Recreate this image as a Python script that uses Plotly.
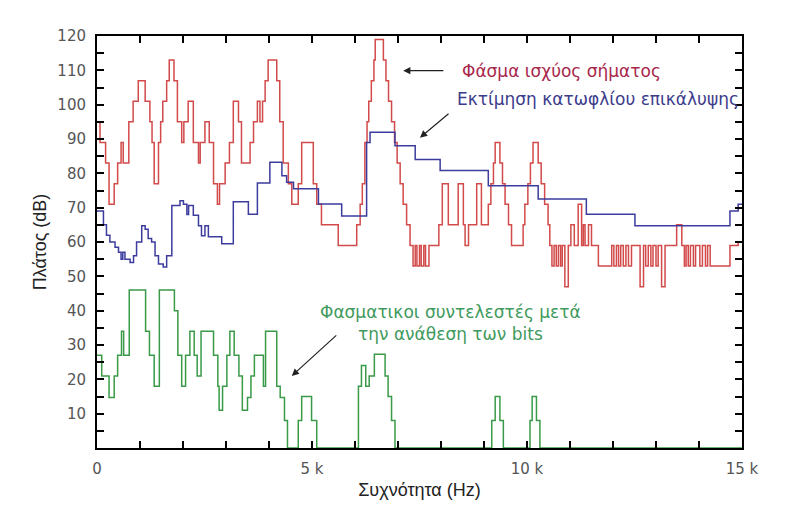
import plotly.graph_objects as go

# ---- data (frequency in kHz where each step starts, level in dB) ----
red_f = [0.00, 0.07, 0.20, 0.28, 0.40, 0.48, 0.56, 0.61, 0.74, 0.84, 0.96, 1.12, 1.23, 1.28, 1.33,
         1.43, 1.48, 1.53, 1.62, 1.68, 1.79, 1.87, 1.97, 2.02, 2.12, 2.24, 2.36, 2.40, 2.51, 2.61,
         2.71, 2.80, 2.85, 2.98, 3.08, 3.17, 3.29, 3.36, 3.56, 3.64, 3.73, 3.79, 3.85, 3.91, 3.98,
         4.18, 4.25, 4.33, 4.45, 4.53, 4.68, 4.76, 5.03, 5.11, 5.22, 5.61, 6.04, 6.12,
         6.17, 6.23, 6.28, 6.32, 6.38, 6.44, 6.47, 6.66, 6.72, 6.78, 6.85, 6.92, 6.98, 7.05, 7.12,
         7.20, 7.28, 7.35, 7.40, 7.44, 7.50, 7.54, 7.60, 7.64, 7.72, 7.95, 8.03, 8.17, 8.40, 8.52,
         8.56, 8.64, 8.83, 8.94, 9.10, 9.16, 9.22, 9.26, 9.37, 9.43, 9.49, 9.57, 9.64, 9.91, 9.95,
         10.02, 10.08, 10.14, 10.26, 10.33, 10.41, 10.49, 10.53, 10.58, 10.63, 10.68, 10.73, 10.78,
         10.82, 10.88, 10.96, 11.02, 11.10, 11.19, 11.27, 11.31, 11.35, 11.43, 11.50, 11.66, 11.97,
         12.02, 12.08, 12.13, 12.18, 12.24, 12.30, 12.36, 12.43, 12.63, 12.71, 12.76, 12.82, 12.88,
         12.93, 13.00, 13.05, 13.13, 13.21, 13.48, 13.60, 13.66, 13.70, 13.75, 13.80, 13.87, 13.92,
         14.02, 14.08, 14.15, 14.20, 14.26, 14.72, 14.91]
red_db = [95, 89, 83, 71, 77, 83, 89, 83, 95, 101, 107, 101, 95, 89, 77,
          89, 95, 101, 107, 113, 107, 95, 89, 95, 101, 89, 83, 89, 95, 89,
          77, 71, 77, 83, 89, 101, 95, 83, 89, 95, 101, 95, 101, 107, 113,
          107, 95, 83, 77, 71, 77, 89, 77, 71, 65, 59, 65, 71,
          77, 89, 95, 101, 107, 113, 119, 113, 107, 101, 95, 89, 83, 77, 71,
          65, 59, 53, 59, 53, 59, 53, 59, 53, 59, 65, 77, 65, 77, 65,
          59, 65, 77, 65, 71, 77, 83, 89, 83, 77, 71, 65, 59, 65, 71,
          77, 83, 89, 83, 77, 71, 65, 59, 53, 59, 53, 59, 53,
          59, 47, 59, 65, 59, 71, 59, 65, 59, 65, 59, 53, 59,
          53, 59, 53, 59, 53, 59, 53, 59, 47, 59, 53, 59, 53,
          59, 53, 59, 47, 59, 65, 59, 53, 59, 53, 59, 53, 59,
          53, 59, 53, 59, 53, 59, 60]

blue_f = [0.00, 0.15, 0.22, 0.30, 0.42, 0.50, 0.56, 0.60, 0.65, 0.77, 0.85, 0.92, 1.04, 1.12, 1.19,
          1.27, 1.35, 1.43, 1.54, 1.62, 1.74, 1.93, 2.01, 2.09, 2.13, 2.24, 2.36, 2.43, 2.51, 2.59,
          2.90, 3.17, 3.52, 3.73, 4.02, 4.30, 4.41, 4.57, 5.15, 5.69, 6.27, 6.35, 6.93, 7.40, 7.98,
          9.10, 10.26, 11.38, 12.51, 14.72, 14.91]
blue_db = [69, 65, 62, 60, 58.5, 57, 55, 57, 55, 54, 56, 60, 64.7, 63.7, 61,
           60, 56, 53.6, 52.7, 56, 70.6, 72, 71, 68, 70.6, 67.8, 64.7, 61.8, 64.7, 61.5,
           59.5, 71.7, 68.1, 77.2, 83.2, 79.3, 77.4, 75.5, 71.1, 67.6, 89, 92, 88, 84, 80.8,
           76.4, 72.5, 68.1, 64.7, 69, 71]

green_f = [0.00, 0.11, 0.28, 0.40, 0.48, 0.57, 0.62, 0.75, 1.13, 1.22, 1.33, 1.45, 1.80, 1.88, 1.97,
           2.06, 2.16, 2.26, 2.33, 2.42, 2.71, 2.81, 2.84, 2.92, 3.02, 3.09, 3.19, 3.30, 3.38, 3.50,
           3.58, 3.66, 3.87, 3.92, 4.18, 4.26, 4.36, 4.43, 4.68, 4.76, 4.99, 5.11, 6.08, 6.15, 6.25,
           6.33, 6.45, 6.70, 6.77, 6.85, 6.93, 9.18, 9.26, 9.37, 9.45, 10.07, 10.12, 10.22, 10.30]
green_db = [27, 21, 14.7, 21, 27, 34, 27, 46, 34, 27, 18, 46, 40, 27, 18,
            27, 34, 27, 21, 34, 27, 18, 11, 18, 27, 34, 27, 21, 11, 14.7,
            21, 27, 18, 34, 18, 14.7, 8, 0, 8, 15, 8, 0, 18, 24, 18,
            21, 27.3, 21, 15, 8, 0, 8, 15, 8, 0, 8, 15, 8, 0]

f_max = 15.0
x_tick_vals = list(range(0, 16))
x_tick_text = ["0", "", "", "", "", "5 k", "", "", "", "", "10 k", "", "", "", "", "15 k"]
y_tick_vals = list(range(0, 121, 5))
y_tick_text = ["" if (v % 10 or v == 0) else str(v) for v in y_tick_vals]

series = [
    ("Φάσμα ισχύος σήματος", red_f, red_db, "#d24a4a"),
    ("Εκτίμηση κατωφλίου επικάλυψης", blue_f, blue_db, "#3c3c9e"),
    ("Φασματικοί συντελεστές", green_f, green_db, "#3a9a48"),
]

fig = go.Figure()
for name, fx, fy, col in series:
    fig.add_trace(go.Scatter(
        x=list(fx) + [f_max], y=list(fy) + [fy[-1]],
        mode="lines", line=dict(color=col, width=1.5, shape="hv"),
        name=name, showlegend=False, hoverinfo="skip"))

axis_common = dict(
    showline=True, linecolor="black", linewidth=2, mirror="ticks",
    ticks="inside", ticklen=7, tickwidth=1.5, tickcolor="black",
    showgrid=False, zeroline=False, automargin=False,
    tickfont=dict(family="DejaVu Sans", size=15, color="#555555"),
    ticklabelstandoff=6,
)

fig.update_xaxes(range=[0, f_max], tickmode="array", tickvals=x_tick_vals, ticktext=x_tick_text,
                 title=dict(text="Συχνότητα (Hz)", font=dict(family="Liberation Sans", size=18, color="#222"),
                            standoff=6),
                 **axis_common)
fig.update_yaxes(range=[0, 120], tickmode="array", tickvals=y_tick_vals, ticktext=y_tick_text,
                 title=dict(text="Πλάτος (dB)", font=dict(family="Liberation Sans", size=18, color="#222"),
                            standoff=6),
                 **axis_common)

arrow = dict(showarrow=True, arrowhead=2, arrowsize=1.2, arrowwidth=1.2, arrowcolor="#222",
             xref="x", yref="y", axref="x", ayref="y", text="")
fig.add_annotation(x=7.12, y=109.9, ax=8.09, ay=109.9, **arrow)
fig.add_annotation(x=7.51, y=90.4, ax=8.21, ay=97.7, **arrow)
fig.add_annotation(x=4.53, y=21.0, ax=5.60, ay=33.2, **arrow)

fig.add_annotation(x=8.44, y=109.9, xref="x", yref="y", xanchor="left", yanchor="middle",
                   text="Φάσμα ισχύος σήματος", showarrow=False,
                   font=dict(family="DejaVu Sans", size=17, color="#a8284c"))
fig.add_annotation(x=8.33, y=101.7, xref="x", yref="y", xanchor="left", yanchor="middle",
                   text="Εκτίμηση κατωφλίου επικάλυψης", showarrow=False,
                   font=dict(family="DejaVu Sans", size=17, color="#3c3c8c"))
fig.add_annotation(x=8.21, y=36.3, xref="x", yref="y", xanchor="center", yanchor="middle",
                   text="Φασματικοι συντελεστές μετά<br>την ανάθεση των bits", showarrow=False,
                   align="center",
                   font=dict(family="DejaVu Sans", size=17, color="#3f9a5e"))

# page body has an 8px margin, so the figure is drawn 8px in from the window edge
fig.update_layout(
    width=781, height=495,
    margin=dict(l=89, r=47, t=28, b=55),
    paper_bgcolor="white", plot_bgcolor="white",
)

fig.write_html("out.html")
